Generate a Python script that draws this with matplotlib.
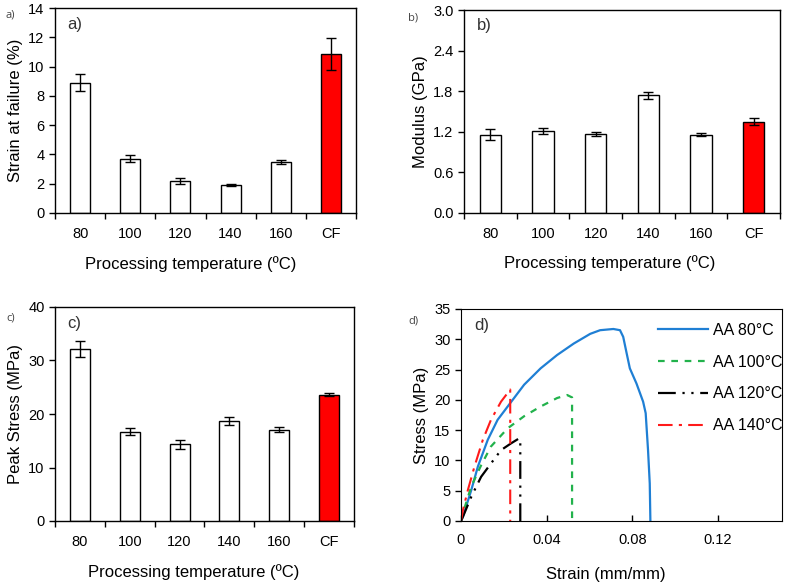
import numpy as np
import matplotlib
matplotlib.use("Agg")
import matplotlib.pyplot as plt

plt.rcParams['font.family'] = ['Liberation Sans', 'DejaVu Sans']

# bar chart data
categories = ["80", "100", "120", "140", "160", "CF"]
strain_fail = [8.9, 3.7, 2.2, 1.9, 3.5, 10.85]
strain_fail_err = [0.6, 0.25, 0.2, 0.08, 0.15, 1.1]
modulus = [1.16, 1.21, 1.17, 1.74, 1.16, 1.35]
modulus_err = [0.08, 0.04, 0.03, 0.05, 0.02, 0.05]
peak_stress = [32.1, 16.7, 14.3, 18.7, 17.1, 23.6]
peak_stress_err = [1.5, 0.7, 0.8, 0.7, 0.5, 0.3]

# stress-strain curves
aa80_strain = [0, 0.0009, 0.0048, 0.0079, 0.0125, 0.0171, 0.0218, 0.0295, 0.0372, 0.0449,
               0.0527, 0.0604, 0.065, 0.0712, 0.0743, 0.0758, 0.0774, 0.0789, 0.082, 0.0851,
               0.0863, 0.0874, 0.0882, 0.0885]
aa80_stress = [0, 0.7, 5.1, 9.0, 13.4, 16.7, 18.9, 22.5, 25.2, 27.4,
               29.3, 30.9, 31.5, 31.7, 31.5, 30.4, 27.7, 25.2, 22.7, 19.7,
               17.8, 11.7, 6.2, 0]
aa100_strain = [0, 0.0009, 0.0048, 0.0094, 0.014, 0.0218, 0.0295, 0.0372, 0.0449, 0.0496, 0.0519, 0.0519]
aa100_stress = [0, 1.3, 5.7, 9.2, 12.3, 15.3, 17.3, 18.9, 20.3, 20.8, 20.4, 0]
aa120_strain = [0, 0.0009, 0.0048, 0.0094, 0.014, 0.0187, 0.0233, 0.0272, 0.0277, 0.0277]
aa120_stress = [0, 0.7, 4.0, 7.3, 9.5, 11.7, 12.8, 13.65, 13.4, 0]
aa140_strain = [0, 0.0009, 0.0032, 0.0063, 0.0102, 0.014, 0.0187, 0.023, 0.023]
aa140_stress = [0, 1.8, 5.1, 9.0, 13.4, 16.7, 19.7, 21.7, 0]

W, H = 787, 583
fig = plt.figure(figsize=(W / 100, H / 100), dpi=100)


def px_axes(x0, y0, x1, y1):
    # axes from pixel box (top-left origin)
    return fig.add_axes([x0 / W, 1 - y1 / H, (x1 - x0) / W, (y1 - y0) / H])


def bar_panel(ax, vals, errs, ymax, ystep, ylabel, fmt, tag, xpad, xlab_x):
    x = np.arange(len(categories))
    colors = ["white"] * (len(categories) - 1) + ["#ff0000"]
    ax.bar(x, vals, width=0.4, color=colors, edgecolor="black", linewidth=1.0,
           yerr=errs, capsize=3.5, error_kw=dict(elinewidth=1.0, capthick=1.0, ecolor="black"),
           zorder=2)
    ax.set_xlim(-0.5, 5.5)
    ax.set_ylim(0, ymax)
    ax.set_xticks(np.arange(-0.5, 6, 1))
    ax.set_xticklabels([])
    ax.set_xticks(x, minor=True)
    ax.set_xticklabels(categories, minor=True, fontsize=10.5)
    ax.tick_params(axis="x", which="major", direction="out", length=4, width=1)
    ax.tick_params(axis="x", which="minor", length=0, pad=10)
    ticks = np.arange(0, ymax + ystep / 2, ystep)
    ax.set_yticks(ticks)
    ax.set_yticklabels([fmt.format(v) for v in ticks], fontsize=10.5)
    ax.tick_params(axis="y", direction="out", length=4, width=1)
    ax.set_ylabel(ylabel, fontsize=12)
    ax.set_xlabel("Processing temperature (ºC)", fontsize=12, labelpad=xpad)
    ax.xaxis.label.set_x(xlab_x)
    for s in ax.spines.values():
        s.set_linewidth(1.0)
    ax.text(0.04, 0.9, tag, transform=ax.transAxes, fontsize=12, color="#333333")


ax_a = px_axes(55, 8, 356, 213)
bar_panel(ax_a, strain_fail, strain_fail_err, 14, 2, "Strain at failure (%)", "{:.0f}", "a)", 11, 0.45)
ax_b = px_axes(464, 10, 780, 213)
bar_panel(ax_b, modulus, modulus_err, 3.0, 0.6, "Modulus (GPa)", "{:.1f}", "b)", 10, 0.46)
ax_c = px_axes(55, 307, 354, 521)
bar_panel(ax_c, peak_stress, peak_stress_err, 40, 10, "Peak Stress (MPa)", "{:.0f}", "c)", 11, 0.465)

# panel d
ax_d = px_axes(461, 309, 782, 521)
ax_d.plot(aa80_strain, aa80_stress, color="#1f7fd4", lw=1.6, label="AA 80°C")
ax_d.plot(aa100_strain, aa100_stress, color="#22b24c", lw=1.6, ls=(0, (3, 3)), label="AA 100°C")
ax_d.plot(aa120_strain, aa120_stress, color="black", lw=1.6, ls=(0, (8, 3, 1, 3, 1, 3)), label="AA 120°C")
ax_d.plot(aa140_strain, aa140_stress, color="#ff1a1a", lw=1.5, ls=(0, (7, 3, 1.5, 3)), label="AA 140°C")
ax_d.set_xlim(0, 0.15)
ax_d.set_ylim(0, 35)
ax_d.set_xticks([0, 0.04, 0.08, 0.12])
ax_d.set_xticklabels(["0", "0.04", "0.08", "0.12"], fontsize=10.5)
ax_d.set_yticks(np.arange(0, 36, 5))
ax_d.set_yticklabels([str(v) for v in range(0, 36, 5)], fontsize=10.5)
ax_d.tick_params(axis="x", direction="in", length=4, width=1, pad=9)
ax_d.tick_params(axis="y", direction="out", length=4, width=1)
ax_d.set_xlabel("Strain (mm/mm)", fontsize=12, labelpad=14)
ax_d.xaxis.label.set_x(0.45)
ax_d.set_ylabel("Stress (MPa)", fontsize=12)
ax_d.text(0.04, 0.9, "d)", transform=ax_d.transAxes, fontsize=12, color="#333333")
ax_d.legend(loc="upper left", bbox_to_anchor=(0.615, 0.935), frameon=False, fontsize=11.5,
            handlelength=3.1, handletextpad=0.3, labelspacing=1.05, borderaxespad=0,
            borderpad=0)

# small outer panel tags
for tx, ty, t in [(6, 15, "a)"), (408, 18, "b)"), (6, 318, "c)"), (408, 321, "d)")]:
    fig.text(tx / W, 1 - ty / H, t, fontsize=8, color="#444444", va="center",
             family=["Open Sans", "DejaVu Sans"])

fig.savefig("out.png", dpi=100)
